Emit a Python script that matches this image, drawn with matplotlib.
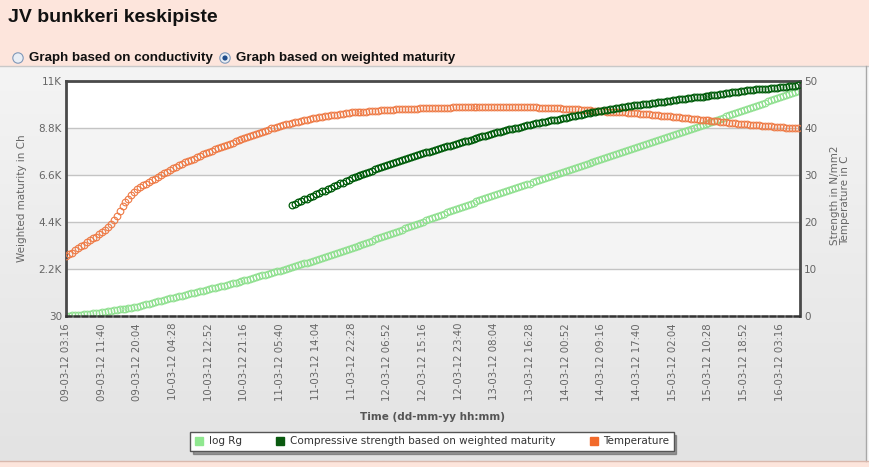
import matplotlib
matplotlib.use("Agg")
import matplotlib.pyplot as plt
import numpy as np
import pandas as pd
from matplotlib.colors import LinearSegmentedColormap
from matplotlib.lines import Line2D
from matplotlib.patches import Circle, Rectangle

title = "JV bunkkeri keskipiste"
radio_labels = ["Graph based on conductivity", "Graph based on weighted maturity"]

tick_labels = [
    "09-03-12 03:16", "09-03-12 11:40", "09-03-12 20:04", "10-03-12 04:28",
    "10-03-12 12:52", "10-03-12 21:16", "11-03-12 05:40", "11-03-12 14:04",
    "11-03-12 22:28", "12-03-12 06:52", "12-03-12 15:16", "12-03-12 23:40",
    "13-03-12 08:04", "13-03-12 16:28", "14-03-12 00:52", "14-03-12 09:16",
    "14-03-12 17:40", "15-03-12 02:04", "15-03-12 10:28", "15-03-12 18:52",
    "16-03-12 03:16",
]
maturity_ticks = [30, 2224, 4418, 6612, 8806, 11000]
maturity_tick_labels = ["30", "2.2K", "4.4K", "6.6K", "8.8K", "11K"]
right_ticks = [0, 10, 20, 30, 40, 50]

sample_minutes = 42          # one reading every 42 minutes
strength_first_sample = 76   # strength series starts later

# weighted maturity (log Rg), left axis
log_rg = [
    30, 44, 58, 72, 86, 100, 114, 128, 142, 156, 170, 184, 198,
    221, 243, 266, 288, 311, 334, 356, 379, 401, 424, 447, 469,
    504, 538, 573, 607, 642, 677, 711, 746, 780, 815, 850, 884,
    917, 950, 983, 1016, 1049, 1083, 1116, 1149, 1182, 1215, 1248, 1281,
    1315, 1350, 1384, 1418, 1452, 1487, 1521, 1555, 1589, 1624, 1658, 1692,
    1730, 1768, 1806, 1844, 1883, 1921, 1959, 1997, 2035, 2073, 2111, 2149,
    2191, 2232, 2274, 2316, 2357, 2399, 2441, 2482, 2524, 2566, 2607, 2649,
    2696, 2743, 2790, 2837, 2885, 2932, 2979, 3026, 3073, 3120, 3167, 3214,
    3263, 3311, 3360, 3408, 3457, 3506, 3554, 3603, 3651, 3700, 3748, 3797,
    3850, 3904, 3957, 4010, 4064, 4117, 4170, 4224, 4277, 4330, 4384, 4437,
    4491, 4544, 4598, 4652, 4705, 4759, 4813, 4866, 4920, 4974, 5027, 5081,
    5130, 5179, 5228, 5277, 5326, 5375, 5424, 5473, 5522, 5571, 5620, 5669,
    5715, 5760, 5806, 5851, 5897, 5942, 5988, 6033, 6079, 6124, 6170, 6215,
    6262, 6309, 6356, 6403, 6450, 6498, 6545, 6592, 6639, 6686, 6733, 6780,
    6827, 6873, 6920, 6967, 7013, 7060, 7107, 7153, 7200, 7247, 7293, 7340,
    7387, 7434, 7481, 7528, 7575, 7623, 7670, 7717, 7764, 7811, 7858, 7905,
    7952, 7999, 8046, 8093, 8140, 8188, 8235, 8282, 8329, 8376, 8423, 8470,
    8518, 8566, 8614, 8661, 8709, 8757, 8805, 8853, 8901, 8948, 8996, 9044,
    9094, 9144, 9195, 9245, 9295, 9345, 9395, 9446, 9496, 9546, 9596, 9646,
    9696, 9746, 9796, 9845, 9895, 9945, 9995, 10045, 10095, 10144, 10194, 10244,
    10293, 10342, 10391, 10440, 10489, 10538,
]

# compressive strength (N/mm2), right axis
strength = [
    23.6, 23.9, 24.2, 24.5, 24.8, 25.0, 25.3, 25.6, 25.9,
    26.2, 26.5, 26.7, 27.0, 27.3, 27.6, 27.9, 28.2, 28.4, 28.7, 29.0, 29.3,
    29.5, 29.8, 30.0, 30.2, 30.5, 30.7, 30.9, 31.2, 31.4, 31.6, 31.9, 32.1,
    32.3, 32.5, 32.7, 32.9, 33.1, 33.4, 33.6, 33.8, 34.0, 34.2, 34.4, 34.6,
    34.8, 35.0, 35.2, 35.3, 35.5, 35.7, 35.9, 36.1, 36.2, 36.4, 36.6, 36.8,
    37.0, 37.2, 37.3, 37.5, 37.7, 37.9, 38.0, 38.2, 38.4, 38.6, 38.7, 38.9,
    39.1, 39.2, 39.4, 39.5, 39.7, 39.8, 40.0, 40.1, 40.3, 40.4, 40.6, 40.7,
    40.8, 41.0, 41.1, 41.2, 41.3, 41.5, 41.6, 41.7, 41.8, 42.0, 42.1, 42.2,
    42.3, 42.5, 42.6, 42.7, 42.8, 43.0, 43.1, 43.2, 43.3, 43.5, 43.6, 43.7,
    43.8, 43.9, 44.0, 44.1, 44.2, 44.3, 44.4, 44.5, 44.6, 44.7, 44.8, 44.9,
    45.0, 45.1, 45.1, 45.2, 45.3, 45.4, 45.5, 45.6, 45.6, 45.7, 45.8, 45.9,
    46.0, 46.1, 46.1, 46.2, 46.3, 46.4, 46.5, 46.6, 46.6, 46.7, 46.8, 46.9,
    47.0, 47.1, 47.1, 47.2, 47.3, 47.4, 47.5, 47.6, 47.6, 47.7, 47.8, 47.9,
    48.0, 48.0, 48.1, 48.2, 48.2, 48.3, 48.4, 48.4, 48.5, 48.6, 48.6, 48.7,
    48.8, 48.8, 48.9, 49.0, 49.0, 49.1,
]

# concrete temperature (C), right axis
temperature = [
    12.7, 13.1, 13.5, 14.0, 14.4, 14.8, 15.2, 15.7, 16.1, 16.5, 16.9, 17.4, 17.8,
    18.3, 18.9, 19.6, 20.4, 21.3, 22.3, 23.3, 24.2, 25.0, 25.7, 26.4, 27.0,
    27.4, 27.8, 28.1, 28.5, 28.9, 29.2, 29.6, 30.0, 30.4, 30.7, 31.1, 31.5,
    31.8, 32.1, 32.4, 32.7, 33.0, 33.2, 33.5, 33.8, 34.1, 34.4, 34.7, 35.0,
    35.2, 35.5, 35.7, 36.0, 36.2, 36.4, 36.7, 36.9, 37.2, 37.4, 37.7, 37.9,
    38.1, 38.3, 38.6, 38.8, 39.0, 39.2, 39.4, 39.6, 39.9, 40.1, 40.3, 40.5,
    40.6, 40.8, 40.9, 41.1, 41.2, 41.3, 41.5, 41.6, 41.8, 41.9, 42.1, 42.2,
    42.3, 42.4, 42.5, 42.6, 42.7, 42.7, 42.8, 42.9, 43.0, 43.1, 43.2, 43.3,
    43.3, 43.4, 43.4, 43.5, 43.5, 43.6, 43.6, 43.7, 43.7, 43.8, 43.8, 43.9,
    43.9, 43.9, 44.0, 44.0, 44.0, 44.0, 44.1, 44.1, 44.1, 44.1, 44.2, 44.2,
    44.2, 44.2, 44.2, 44.3, 44.3, 44.3, 44.3, 44.3, 44.3, 44.4, 44.4, 44.4,
    44.4, 44.4, 44.4, 44.4, 44.4, 44.5, 44.5, 44.5, 44.5, 44.5, 44.5, 44.5,
    44.5, 44.5, 44.5, 44.5, 44.5, 44.5, 44.5, 44.4, 44.4, 44.4, 44.4, 44.4,
    44.4, 44.4, 44.3, 44.3, 44.3, 44.3, 44.2, 44.2, 44.2, 44.2, 44.1, 44.1,
    44.1, 44.0, 44.0, 44.0, 43.9, 43.9, 43.8, 43.8, 43.7, 43.7, 43.6, 43.6,
    43.6, 43.5, 43.5, 43.4, 43.4, 43.3, 43.3, 43.3, 43.2, 43.2, 43.1, 43.1,
    43.0, 43.0, 42.9, 42.9, 42.8, 42.8, 42.7, 42.6, 42.6, 42.5, 42.5, 42.4,
    42.3, 42.3, 42.2, 42.1, 42.1, 42.0, 41.9, 41.9, 41.8, 41.7, 41.7, 41.6,
    41.5, 41.5, 41.4, 41.3, 41.3, 41.2, 41.1, 41.1, 41.0, 40.9, 40.9, 40.8,
    40.8, 40.7, 40.7, 40.6, 40.6, 40.5, 40.5, 40.4, 40.4, 40.3, 40.3, 40.2,
    40.2, 40.1, 40.1, 40.0, 40.0, 39.9,
]

series_colors = {"log Rg": "#8fe08f",
                 "Compressive strength based on weighted maturity": "#005c0a",
                 "Temperature": "#ee7a45"}
legend_colors = ["#90e890", "#0a5a10", "#f26a2a"]

pink = "#fde5dc"
axis_text = "#666666"

tick_times = pd.to_datetime(tick_labels, format="%d-%m-%y %H:%M")
step = pd.Timedelta(minutes=sample_minutes)
times = tick_times[0] + np.arange(len(temperature)) * step
strength_times = times[strength_first_sample:]

fig = plt.figure(figsize=(8.69, 4.67), dpi=100)

# page background, drawn in pixel coordinates
bg = fig.add_axes([0, 0, 1, 1], zorder=0)
bg.axis("off")
grad = LinearSegmentedColormap.from_list("panel", ["#f4f4f4", "#e3e3e3"])
bg.imshow(np.linspace(0, 1, 200).reshape(-1, 1), cmap=grad, aspect="auto",
          extent=(0, 866, 461, 66))
bg.add_patch(Rectangle((0, 0), 869, 66, color=pink, lw=0))
bg.add_patch(Rectangle((0, 461), 869, 6, color=pink, lw=0))
bg.add_patch(Rectangle((866, 66), 3, 395, color="#f7f7f7", lw=0))
bg.plot([0, 869], [66, 66], color="#c8c8c8", lw=1)
bg.plot([866, 866], [66, 461], color="#a8a8a8", lw=1)
bg.plot([0, 869], [461, 461], color="#d9b8ad", lw=1)
bg.set_xlim(0, 869)
bg.set_ylim(467, 0)

bg.text(8, 18, title, fontsize=14, fontweight="bold", family="Liberation Sans",
        ha="left", va="center", color="#111111")

radio_x = [18, 225]
for i, (rx, lab) in enumerate(zip(radio_x, radio_labels)):
    bg.add_patch(Circle((rx, 58), 5.2, fc="#e9eef5", ec="#7f98b8", lw=0.8))
    if i == 1:
        bg.add_patch(Circle((rx, 58), 2.6, fc="#1f4d8c", ec="none"))
    bg.text(rx + 11, 58.5, lab, fontsize=9.6, fontweight="bold",
            family="Liberation Sans", ha="left", va="center", color="#111111")

# chart
ax = fig.add_axes([66 / 869, 1 - 316 / 467, 734 / 869, 235 / 467], zorder=1)
ax.set_facecolor("white")
ax.set_ylim(maturity_ticks[0], maturity_ticks[-1])
for lo, hi in [(1, 2), (3, 4)]:
    ax.axhspan(maturity_ticks[lo], maturity_ticks[hi], color="#f4f4f4", lw=0, zorder=0)
ax.set_yticks(maturity_ticks)
ax.set_yticklabels(maturity_tick_labels)
ax.yaxis.grid(True, color="#c4c4c4", lw=1)
ax.set_axisbelow(True)

ax.plot(times, log_rg, ls="none", marker="o", ms=4.8, mfc="none",
        mec=series_colors["log Rg"], mew=0.8, zorder=3)

ax2 = ax.twinx()
ax2.set_ylim(0, 50)
ax2.set_yticks(right_ticks)
ax2.plot(times, temperature, ls="none", marker="o", ms=4.8, mfc="none",
         mec=series_colors["Temperature"], mew=0.8, zorder=3)
ax2.plot(strength_times, strength, ls="none", marker="o", ms=4.8, mfc="none",
         mec=series_colors["Compressive strength based on weighted maturity"],
         mew=0.9, zorder=4)

ax.set_xlim(times[0], times[-1] + pd.Timedelta(minutes=32))
ax.set_xticks(tick_times)
ax.set_xticklabels(tick_labels, rotation=90, fontsize=7.3, color=axis_text)

for a in (ax, ax2):
    a.tick_params(length=0, labelsize=7.5, labelcolor=axis_text, pad=3)
ax.tick_params(axis="x", pad=5, labelsize=7.3)

for s in ax.spines.values():
    s.set_visible(False)
for name in ("left", "right", "top"):
    ax2.spines[name].set_color("#4a4a4a")
    ax2.spines[name].set_linewidth(2)
ax2.spines["bottom"].set_color("#333333")
ax2.spines["bottom"].set_linewidth(1.8)
ax2.spines["bottom"].set_linestyle((0, (2, 1.2)))

# axis titles
bg.text(22, 198, "Weighted maturity in Ch", rotation=90, fontsize=7.5,
        color=axis_text, ha="center", va="center")
bg.text(840, 195, "Strength in N/mm2\nTemperature in C", rotation=90,
        fontsize=7.5, color=axis_text, ha="center", va="center",
        multialignment="left", linespacing=1.1)
bg.text(433, 417, "Time (dd-mm-yy hh:mm)", fontsize=7.5, fontweight="bold",
        color="#555555", ha="center", va="center")

handles = [Line2D([], [], ls="none", marker="s", ms=5.5, mfc=c, mec=c)
           for c in legend_colors]
leg = fig.legend(handles, list(series_colors.keys()), loc="center",
                 bbox_to_anchor=(432 / 869, 1 - 441.5 / 467), ncol=3,
                 fontsize=7.5, frameon=True, fancybox=False, shadow=True,
                 edgecolor="#555555", handlelength=0.8, handletextpad=0.5,
                 columnspacing=3.3, borderpad=0.45)
leg.get_frame().set_linewidth(1)
for t in leg.get_texts():
    t.set_color("#333333")

fig.savefig("out.png", dpi=100)
